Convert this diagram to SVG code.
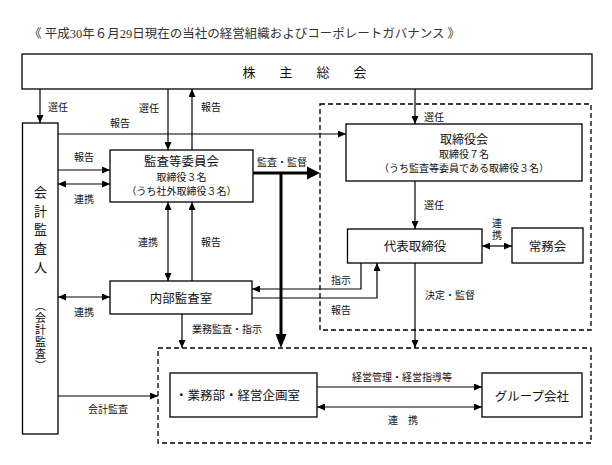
<svg xmlns="http://www.w3.org/2000/svg" width="612" height="465" viewBox="0 0 612 465">
<style>
.box{fill:#fff;stroke:#000;stroke-width:1.3}
.dash{fill:none;stroke:#000;stroke-width:1.3;stroke-dasharray:5 3}
.ln{fill:none;stroke:#000;stroke-width:1.2}
.thick{fill:none;stroke:#000;stroke-width:3}
.t{font-family:"Noto Sans CJK JP","Noto Sans CJK SC",sans-serif;fill:#111}
.lbl{font-size:10px}
.m{text-anchor:middle}
.n{font-size:12.5px}
.s{font-size:10px}
.v{writing-mode:vertical-rl}
.ttl{font-family:"Liberation Serif","Noto Sans CJK JP",serif;font-size:12.5px;fill:#333}
</style>
<defs>
<marker id="ah" viewBox="0 0 8 7" refX="8" refY="3.5" markerWidth="8" markerHeight="7" markerUnits="userSpaceOnUse" orient="auto-start-reverse"><path d="M0,0L8,3.5L0,7z" fill="#000"/></marker>
</defs>
<rect width="612" height="465" fill="#fff"/>
<text class="ttl" x="29" y="37.5">《 平成30年６月29日現在の当社の経営組織およびコーポレートガバナンス 》</text>

<g id="groups">
<rect class="dash" x="320" y="104" width="271" height="226"/>
<rect class="dash" x="158" y="348" width="433" height="95"/>
</g>

<g id="connectors">
<path class="ln" d="M40,89V123" marker-end="url(#ah)"/>
<path class="ln" d="M168,89V150" marker-end="url(#ah)"/>
<path class="ln" d="M192,150V89" marker-end="url(#ah)"/>
<path class="ln" d="M58,134H346" marker-end="url(#ah)"/>
<path class="ln" d="M415,89V124" marker-end="url(#ah)"/>
<path class="ln" d="M58,170H110" marker-end="url(#ah)"/>
<path class="ln" d="M58,184H110" marker-start="url(#ah)" marker-end="url(#ah)"/>
<path class="thick" d="M253,173H308M281,173V335"/>
<polygon points="307,166.5 320,173 307,179.5" fill="#000"/>
<polygon points="275.5,334 286.5,334 281,348" fill="#000"/>
<path class="ln" d="M168,202V281" marker-start="url(#ah)" marker-end="url(#ah)"/>
<path class="ln" d="M192,281V202" marker-end="url(#ah)"/>
<path class="ln" d="M58,297H110" marker-start="url(#ah)" marker-end="url(#ah)"/>
<path class="ln" d="M361,263V289H252" marker-end="url(#ah)"/>
<path class="ln" d="M252,298H377V263" marker-end="url(#ah)"/>
<path class="ln" d="M182,314V348" marker-end="url(#ah)"/>
<path class="ln" d="M415,181V229" marker-end="url(#ah)"/>
<path class="ln" d="M482,246H512" marker-start="url(#ah)" marker-end="url(#ah)"/>
<path class="ln" d="M415,263V348" marker-end="url(#ah)"/>
<path class="ln" d="M58,396H158" marker-end="url(#ah)"/>
<path class="ln" d="M317,387H482" marker-end="url(#ah)"/>
<path class="ln" d="M317,407H482" marker-start="url(#ah)" marker-end="url(#ah)"/>
<g class="t lbl">
<text x="48" y="111">選任</text>
<text x="139" y="112">選任</text>
<text x="201" y="111">報告</text>
<text x="110" y="127">報告</text>
<text x="424" y="121">選任</text>
<text x="74" y="161">報告</text>
<text x="74" y="203">連携</text>
<text x="257" y="166">監査・監督</text>
<text x="138" y="246">連携</text>
<text x="201" y="246">報告</text>
<text x="74" y="316">連携</text>
<text x="331" y="284">指示</text>
<text x="331" y="314">報告</text>
<text x="192" y="333">業務監査・指示</text>
<text x="424" y="209">選任</text>
<text class="v" x="497" y="218" style="letter-spacing:2px">連携</text>
<text x="425" y="299">決定・監督</text>
<text x="88" y="413">会計監査</text>
<text x="352" y="381">経営管理・経営指導等</text>
<text x="388" y="424">連　携</text>
</g>
</g>

<g id="shareholders">
<rect class="box" x="22" y="54" width="570" height="35"/>
<g class="t m" style="font-size:13px">
<text x="249" y="77">株</text><text x="286" y="77">主</text><text x="323" y="77">総</text><text x="360" y="77">会</text>
</g>
</g>

<g id="auditor">
<rect class="box" x="22.5" y="123" width="35.5" height="311"/>
<text class="t v" x="40.5" y="185.5" style="font-size:13px;letter-spacing:5.7px">会計監査人</text>
<text class="t v" x="40.5" y="300" style="font-size:11px;letter-spacing:1px">（会計監査）</text>
</g>

<g id="audit-committee">
<rect class="box" x="110" y="150" width="143" height="52"/>
<text class="t m n" x="181.5" y="165.5">監査等委員会</text>
<text class="t m s" x="181.5" y="180.5">取締役３名</text>
<text class="t m s" x="181.5" y="195">（うち社外取締役３名）</text>
</g>

<g id="board">
<rect class="box" x="346" y="124" width="236" height="57"/>
<text class="t m" style="font-size:12px" x="464" y="143.5">取締役会</text>
<text class="t m s" x="464" y="157.5">取締役７名</text>
<text class="t m s" x="464" y="172">（うち監査等委員である取締役３名）</text>
</g>

<g id="representative">
<rect class="box" x="347.5" y="229" width="134.5" height="34"/>
<text class="t m n" x="415" y="250.5">代表取締役</text>
</g>

<g id="executive-committee">
<rect class="box" x="512" y="228" width="71" height="35"/>
<text class="t m n" x="547.5" y="250.5">常務会</text>
</g>

<g id="internal-audit">
<rect class="box" x="110" y="281" width="142" height="33"/>
<text class="t m n" x="181" y="302.5">内部監査室</text>
</g>

<g id="business-dept">
<rect class="box" x="170" y="373" width="147" height="44"/>
<text class="t n" x="175" y="399.5">・業務部・経営企画室</text>
</g>

<g id="group-companies">
<rect class="box" x="482" y="373" width="100" height="44"/>
<text class="t m n" x="532" y="401">グループ会社</text>
</g>
</svg>
